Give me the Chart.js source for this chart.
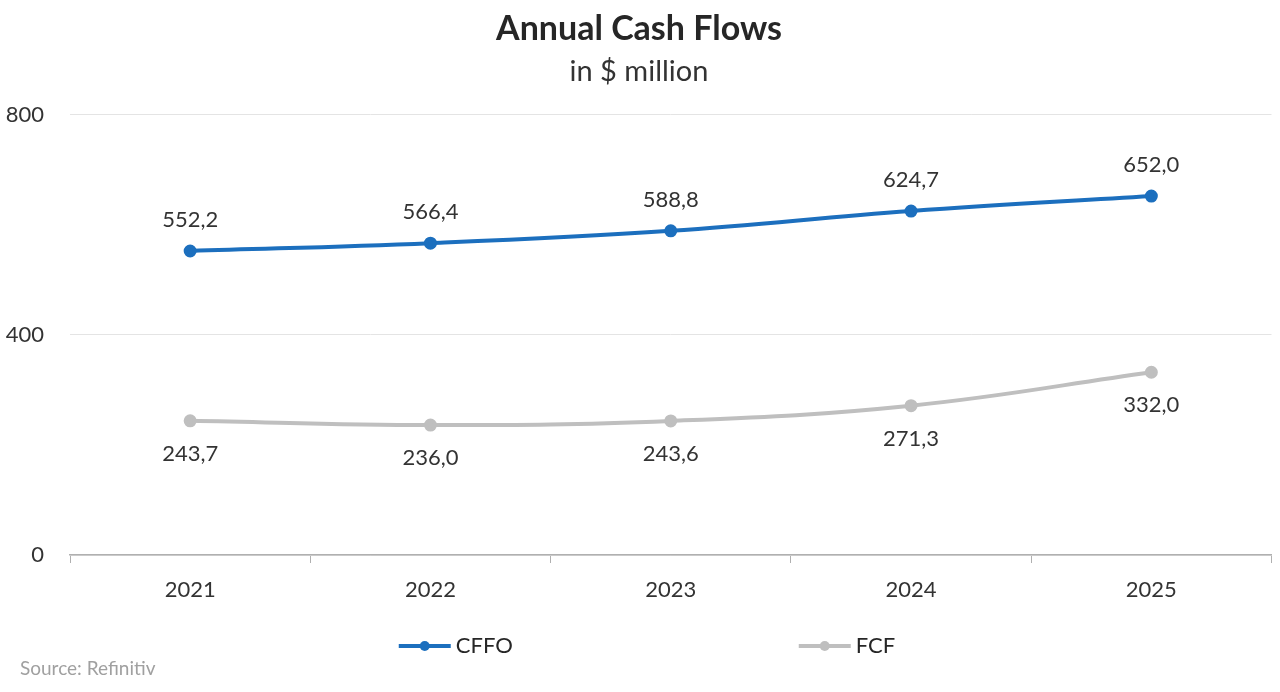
<!DOCTYPE html>
<html>
<head>
<meta charset="utf-8">
<script src="https://cdn.jsdelivr.net/npm/chart.js@4"></script>
<style>
  html, body { margin: 0; padding: 0; background: #fff; overflow: hidden; }
  #wrap { width: 1280px; height: 692px; }
  canvas { display: block; }
</style>
</head>
<body>
<div id="wrap"><canvas id="chart" width="1280" height="692"></canvas></div>
<script>
const years = ['2021', '2022', '2023', '2024', '2025']
const cffo = [552.2, 566.4, 588.8, 624.7, 652.0]
const fcf = [243.7, 236.0, 243.6, 271.3, 332.0]
const yTicks = [0, 400, 800]

const blue = '#1c6fbe'
const grey = '#bfbfbf'
const font = 'Lato, "Open Sans", sans-serif'

const fmt = v => v.toFixed(1).replace('.', ',')

// values above / below the points
const valueLabels = {
    id: 'valueLabels',
    afterDatasetsDraw(c) {
        const ctx = c.ctx
        ctx.save()
        ctx.font = '22px ' + font
        ctx.fillStyle = '#333'
        ctx.textAlign = 'center'
        ctx.textBaseline = 'middle'
        c.data.datasets.forEach((ds, i) => {
            const off = i === 0 ? -31 : 33
            c.getDatasetMeta(i).data.forEach((pt, j) => {
                ctx.fillText(fmt(ds.data[j]), pt.x, pt.y + off)
            })
        })
        ctx.restore()
    }
}

// legend + source line
const bottomBits = {
    id: 'bottomBits',
    afterDraw(c) {
        const ctx = c.ctx
        const mid = (c.chartArea.left + c.chartArea.right) / 2
        const y = 646
        const items = [
            { x: mid - 272, color: blue, text: 'CFFO' },
            { x: mid + 128, color: grey, text: 'FCF' }
        ]
        ctx.save()
        items.forEach(it => {
            ctx.strokeStyle = it.color
            ctx.lineWidth = 4
            ctx.beginPath()
            ctx.moveTo(it.x, y)
            ctx.lineTo(it.x + 52, y)
            ctx.stroke()
            ctx.fillStyle = it.color
            ctx.beginPath()
            ctx.arc(it.x + 26, y, 5, 0, Math.PI * 2)
            ctx.fill()
            ctx.fillStyle = '#262626'
            ctx.font = '22px ' + font
            ctx.textAlign = 'left'
            ctx.textBaseline = 'middle'
            ctx.fillText(it.text, it.x + 57, y)
        })
        ctx.fillStyle = '#a0a0a0'
        ctx.font = '19px ' + font
        ctx.textBaseline = 'middle'
        ctx.fillText('Source: Refinitiv', 20, 669)
        ctx.restore()
    }
}

new Chart(document.querySelector('#chart').getContext('2d'), {
    type: 'line',
    data: {
        labels: years,
        datasets: [
            {
                label: 'CFFO',
                data: cffo,
                borderColor: blue,
                backgroundColor: blue,
                borderWidth: 4,
                pointRadius: 4.5,
                pointHoverRadius: 4.5,
                tension: 0.4
            },
            {
                label: 'FCF',
                data: fcf,
                borderColor: grey,
                backgroundColor: grey,
                borderWidth: 4,
                pointRadius: 4.5,
                pointHoverRadius: 4.5,
                tension: 0.4
            }
        ]
    },
    options: {
        responsive: false,
        animation: false,
        layout: { padding: { left: 0, right: 2, top: 0, bottom: 89 } },
        plugins: {
            legend: { display: false },
            tooltip: { enabled: false },
            title: {
                display: true,
                text: 'Annual Cash Flows',
                color: '#262626',
                font: { family: font, size: 34, weight: 'bold', lineHeight: 1.2 },
                padding: { top: 9, bottom: 4 }
            },
            subtitle: {
                display: true,
                text: 'in $ million',
                color: '#333',
                font: { family: font, size: 29, lineHeight: 1.2 },
                padding: { top: 0, bottom: 26 }
            }
        },
        scales: {
            x: {
                offset: true,
                grid: {
                    offset: true,
                    drawOnChartArea: false,
                    tickLength: 8,
                    color: '#b0b0b0'
                },
                border: { color: '#b0b0b0', width: 1.5 },
                ticks: { color: '#333', font: { family: font, size: 22 }, padding: 14 },
                afterFit: s => { s.height = 48 }
            },
            y: {
                min: 0,
                max: 800,
                afterBuildTicks: s => { s.ticks = yTicks.map(v => ({ value: v })) },
                grid: { color: '#e4e4e4', drawTicks: false },
                border: { display: false },
                ticks: { color: '#333', font: { family: font, size: 22 }, padding: 26 },
                afterFit: s => { s.width = 70 }
            }
        }
    },
    plugins: [valueLabels, bottomBits]
})
</script>
</body>
</html>
